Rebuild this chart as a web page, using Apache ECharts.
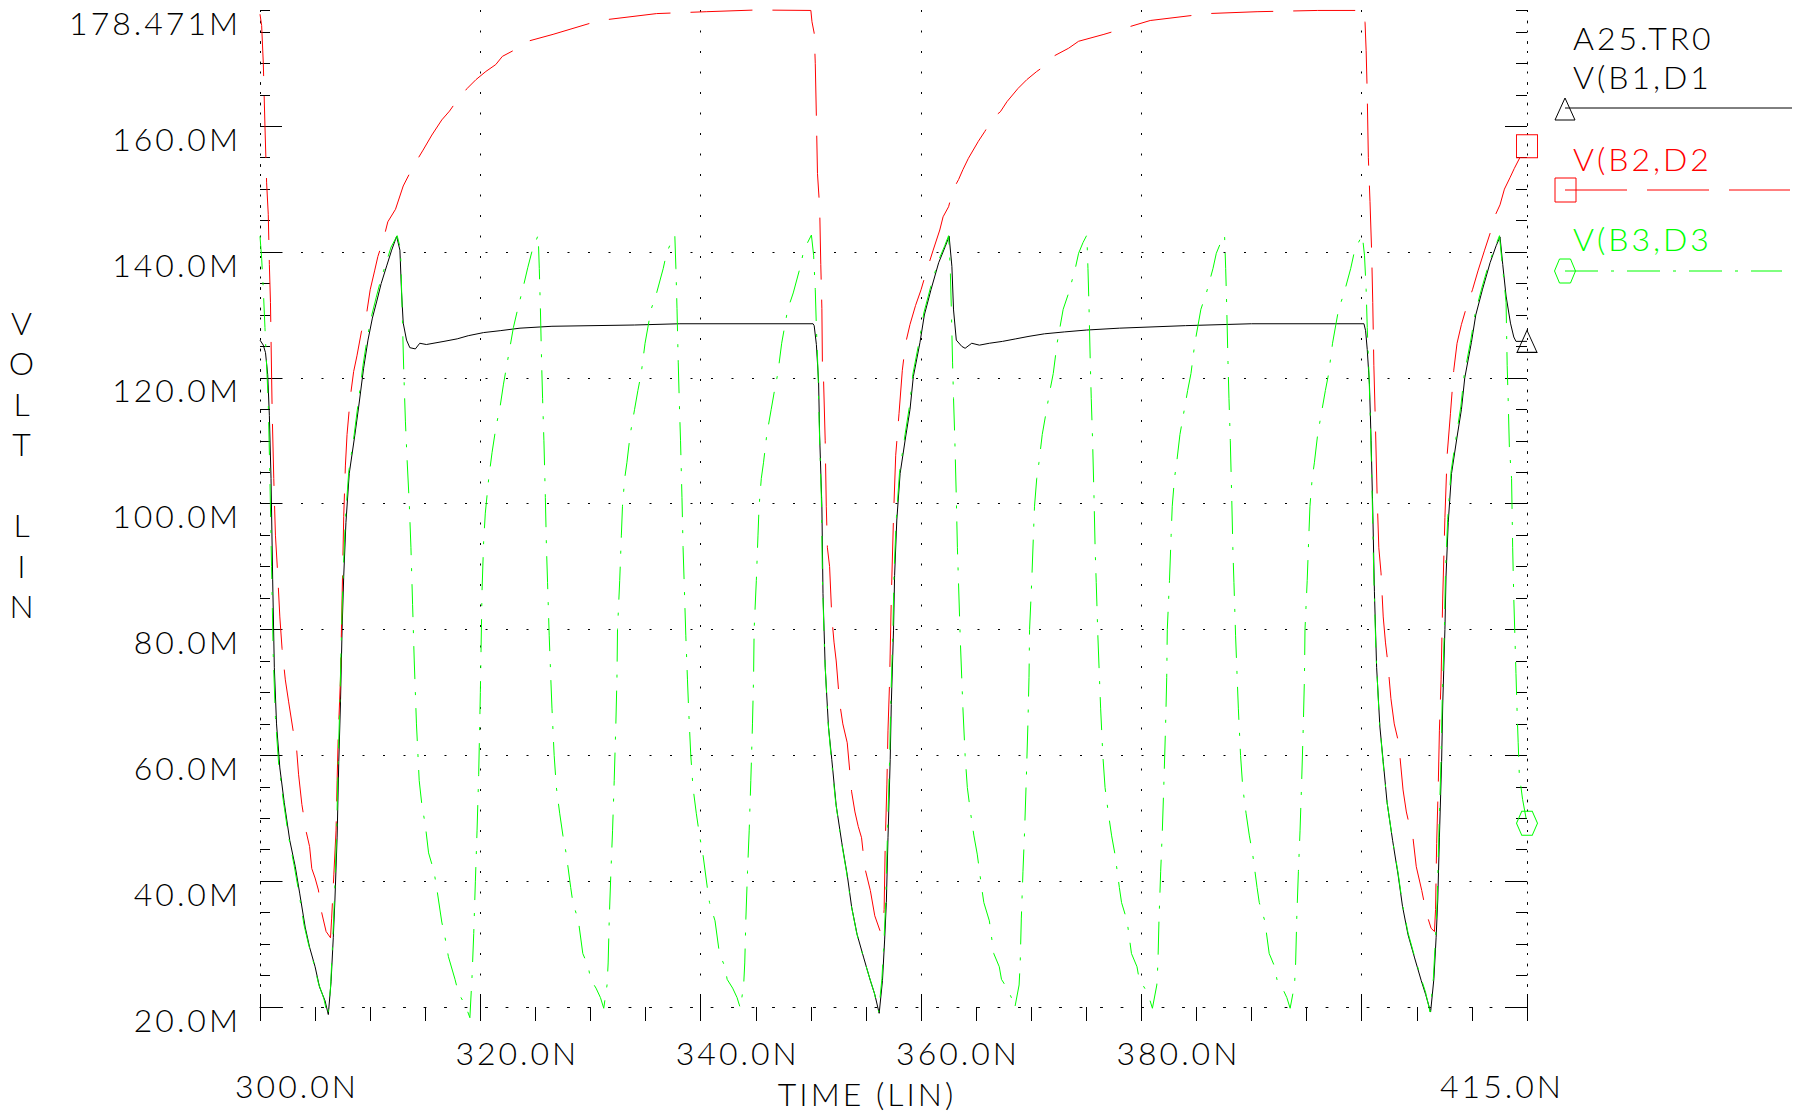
<!DOCTYPE html>
<html>
<head>
<meta charset="utf-8">
<script src="https://cdn.jsdelivr.net/npm/echarts@6/dist/echarts.min.js"></script>
<style>
html, body { margin: 0; padding: 0; background: #ffffff; }
#chart { width: 1803px; height: 1112px; }
#chart svg text { letter-spacing: 3px; }
</style>
</head>
<body>
<div id="chart"></div>
<script>
// ---------- text / tick data ----------
const fileLabel = 'A25.TR0';
const seriesNames = ['V(B1,D1', 'V(B2,D2', 'V(B3,D3'];
const xAxisTitle = 'TIME (LIN)';
const yAxisTitle = 'VOLT LIN';
const xTickValues = [300, 320, 340, 360, 380, 400, 415];
const xTickLabels = ['300.0N', '320.0N', '340.0N', '360.0N', '380.0N', '400.0N', '415.0N'];
const yTickValues = [20, 40, 60, 80, 100, 120, 140, 160, 178.471];
const yTickLabels = ['20.0M', '40.0M', '60.0M', '80.0M', '100.0M', '120.0M', '140.0M', '160.0M', '178.471M'];

// ---------- series values: [time (ns), volt (mV)] ----------
const vb1 = [
  [300.0,126.0],[300.3,125.2],[300.5,124.0],[300.7,120.5],[300.85,114.0],[301.0,104.0],[301.15,88.0],[301.3,74.0],[301.5,65.0],[301.8,58.0],
  [302.2,52.5],[302.7,46.5],[303.2,42.3],[303.6,38.1],[304.1,32.7],[304.5,29.5],[305.0,26.4],[305.4,23.2],[305.9,21.0],[306.2,18.8],
  [306.45,24.0],[306.65,31.0],[306.8,37.0],[307.0,47.0],[307.15,59.0],[307.3,68.0],[307.45,80.0],[307.6,88.5],[307.8,97.0],[308.1,104.8],
  [308.6,110.8],[309.0,116.0],[309.4,121.5],[309.8,126.0],[310.2,129.5],[310.6,132.2],[311.0,135.0],[311.5,137.8],[311.95,140.3],[312.4,142.5],
  [312.7,140.3],[312.85,133.5],[313.0,128.7],[313.3,126.0],[313.6,124.8],[314.1,124.6],[314.5,125.5],[315.1,125.3],[316.7,125.8],[317.9,126.2],
  [318.9,126.7],[320.3,127.2],[321.8,127.5],[323.6,127.9],[326.5,128.2],[334.0,128.4],[338.1,128.6],[350.2,128.6],
  [350.3,128.3],[350.5,125.3],[350.7,119.4],[350.8,110.6],[351.0,99.6],[351.1,85.7],[351.3,74.0],[351.6,64.5],[351.9,59.3],[352.3,52.0],
  [352.8,46.2],[353.3,41.0],[353.7,35.9],[354.2,31.5],[354.8,27.8],[355.4,24.2],[355.8,22.0],[356.2,19.0],[356.5,24.2],[356.7,30.8],
  [356.85,36.6],[357.0,46.9],[357.2,59.3],[357.3,68.1],[357.5,79.9],[357.6,88.6],[357.8,97.4],[358.1,104.8],[358.6,110.6],[359.0,115.0],
  [359.3,120.2],[359.9,125.6],[360.3,130.0],[360.9,134.0],[361.6,138.3],[362.2,140.9],[362.55,142.5],[362.8,137.7],[362.95,130.8],[363.2,126.0],
  [363.7,125.0],[364.0,124.7],[364.6,125.5],[365.3,125.2],[366.2,125.5],[367.4,125.8],[368.6,126.2],[369.8,126.6],[371.2,127.0],[373.0,127.3],
  [375.0,127.6],[378.0,127.9],[384.0,128.3],[390.0,128.6],[400.2,128.6],
  [400.35,127.5],[400.5,124.5],[400.7,119.0],[400.85,110.0],[401.0,99.0],[401.15,86.0],[401.35,74.0],[401.65,64.5],[401.95,59.0],[402.3,52.5],
  [402.8,46.5],[403.3,41.0],[403.7,36.0],[404.2,31.5],[404.8,27.8],[405.4,24.2],[405.8,22.0],[406.25,19.2],[406.55,24.5],[406.75,31.0],
  [406.9,37.0],[407.05,47.0],[407.25,59.0],[407.35,68.0],[407.55,80.0],[407.65,88.5],[407.85,97.0],[408.15,104.8],[408.65,110.6],[409.05,115.0],
  [409.35,120.0],[409.95,125.6],[410.35,130.0],[410.95,134.0],[411.65,138.3],[412.2,141.0],[412.55,142.4],[412.8,138.0],[413.1,133.0],[413.5,128.7],
  [413.8,126.5],[414.0,125.8],[415.0,125.8]
];

const vb2 = [
  [300.0,177.8],[300.15,176.0],[300.3,170.0],[300.45,160.0],[300.6,151.0],[300.75,146.0],[300.85,138.0],[300.95,132.0],[301.1,115.0],[301.25,104.0],
  [301.4,95.0],[301.6,89.0],[301.8,82.0],[302.0,77.0],[302.3,72.0],[302.6,68.5],[303.0,64.0],[303.3,61.5],[303.5,57.0],[303.8,52.2],
  [304.2,47.8],[304.5,45.5],[304.7,42.0],[305.0,40.5],[305.3,38.6],[305.6,35.0],[306.0,32.0],[306.4,31.0],[306.5,34.0],[306.7,41.0],
  [306.9,48.0],[307.0,56.0],[307.1,63.0],[307.3,72.0],[307.45,85.0],[307.6,98.0],[307.75,106.0],[307.9,111.0],[308.2,117.0],[308.5,121.0],
  [308.8,123.5],[309.2,127.3],[309.7,130.5],[310.0,134.0],[310.4,137.0],[310.7,139.3],[311.2,142.0],[311.6,144.8],[312.3,146.8],[313.0,150.5],
  [313.9,153.6],[314.8,156.2],[315.6,158.6],[316.5,161.0],[317.2,162.4],[317.8,163.9],[318.8,166.0],[319.6,167.4],[320.5,168.7],[321.4,169.8],
  [322.0,171.1],[323.4,172.4],[324.3,173.5],[326.6,174.6],[330.8,176.8],[336.0,177.9],[340.5,178.2],[345.0,178.471],[350.0,178.4],
  [350.1,176.6],[350.3,174.8],[350.4,170.0],[350.5,161.5],[350.6,152.5],[350.8,147.0],[350.9,138.0],[351.0,131.0],[351.05,121.6],[351.15,119.8],
  [351.3,110.0],[351.4,99.6],[351.5,93.0],[351.7,90.0],[351.9,82.0],[352.1,78.0],[352.3,75.0],[352.6,68.5],[352.9,65.0],[353.3,62.0],
  [353.7,54.2],[354.0,51.0],[354.3,48.7],[354.6,46.9],[354.9,42.1],[355.4,38.5],[355.8,34.5],[356.3,32.0],[356.55,33.0],[356.65,35.5],
  [356.75,46.0],[356.9,55.3],[357.0,64.0],[357.15,72.0],[357.3,85.0],[357.5,97.8],[357.7,107.7],[358.0,114.3],[358.3,121.2],[358.6,125.5],
  [359.0,128.5],[359.5,131.5],[360.0,134.0],[360.5,137.0],[361.1,140.3],[361.7,143.5],[362.0,145.6],[362.5,147.2],[362.9,149.9],[363.4,151.5],
  [363.8,153.1],[364.3,154.9],[365.2,157.6],[365.8,159.2],[366.5,161.3],[367.2,162.3],[367.8,163.9],[368.8,166.0],[369.6,167.4],[370.5,168.7],
  [371.4,169.8],[372.0,171.1],[373.4,172.4],[374.3,173.5],[376.6,174.6],[380.8,176.8],[386.0,177.9],[390.5,178.2],[396.0,178.4],[400.2,178.4],
  [400.3,176.5],[400.4,172.0],[400.5,165.0],[400.6,155.0],[400.75,148.0],[400.9,140.0],[401.0,132.0],[401.1,122.0],[401.25,112.0],[401.4,101.0],
  [401.55,93.0],[401.75,89.0],[401.95,82.0],[402.15,78.0],[402.35,75.0],[402.65,69.0],[402.95,65.0],[403.35,62.0],[403.75,54.5],[404.05,51.0],
  [404.35,48.7],[404.65,46.9],[404.95,42.3],[405.45,38.5],[405.85,35.0],[406.3,32.5],[406.6,32.0],[406.7,35.5],[406.8,46.0],[406.95,55.5],
  [407.05,64.0],[407.2,72.0],[407.35,85.0],[407.55,97.8],[407.75,107.7],[408.05,114.3],[408.35,121.2],[408.65,125.5],[409.05,128.5],[409.55,131.5],
  [410.05,134.0],[410.55,137.0],[411.15,140.3],[411.75,143.5],[412.05,145.6],[412.55,147.5],[412.95,150.0],[413.45,151.8],[413.85,153.3],[414.35,155.0],
  [415.0,156.8]
];

const vb3 = [
  [300.0,142.5],[300.15,139.0],[300.3,134.0],[300.45,128.0],[300.6,122.0],[300.75,116.0],[300.9,104.0],[301.05,90.0],[301.2,76.0],[301.4,66.0],
  [301.7,58.5],[302.1,53.0],[302.6,47.0],[303.1,42.5],[303.5,38.5],[304.0,33.0],[304.4,30.0],[304.9,26.8],[305.3,23.8],[305.8,21.3],[306.15,18.5],
  [306.4,23.0],[306.6,30.5],[306.75,37.0],[306.95,47.5],[307.1,59.5],[307.25,68.5],[307.4,80.0],[307.55,89.0],[307.75,97.5],[308.05,105.0],
  [308.55,111.0],[308.95,116.5],[309.35,122.0],[309.75,126.5],[310.15,130.0],[310.55,132.8],[310.95,135.5],[311.45,138.3],[311.9,140.8],[312.45,142.6],
  [312.75,140.5],[312.9,131.0],[313.05,121.0],[313.2,113.0],[313.35,107.0],[313.55,100.0],[313.7,93.0],[313.85,84.0],[314.0,75.0],[314.2,65.0],
  [314.45,56.0],[314.7,52.0],[315.0,49.0],[315.3,44.5],[315.8,41.5],[316.1,38.2],[316.5,33.5],[316.8,31.0],[317.1,28.0],[317.7,24.4],
  [318.0,22.3],[318.4,21.0],[318.8,19.5],[319.05,18.3],
  [319.25,25.0],[319.4,31.7],[319.55,40.0],[319.7,48.0],[319.85,57.0],[320.0,70.0],[320.15,86.0],[320.3,94.0],[320.45,98.5],[320.76,104.0],
  [321.06,108.1],[321.4,112.0],[321.8,115.5],[322.1,119.0],[322.6,124.0],[323.0,128.0],[323.4,131.0],[323.9,134.5],[324.3,137.5],[324.7,140.2],[325.25,142.7],
  [325.35,137.4],[325.45,131.0],[325.56,122.5],[325.65,116.7],[325.77,110.0],[325.9,101.0],[326.0,93.0],[326.1,87.5],[326.25,79.0],[326.4,72.0],
  [326.5,67.5],[326.7,60.0],[326.9,54.9],[327.2,50.8],[327.5,47.2],[327.8,44.3],[328.2,39.0],[328.4,36.6],[328.9,33.7],[329.3,28.5],
  [329.8,26.4],[330.0,24.4],[330.5,23.0],[330.9,21.5],[331.2,19.8],
  [331.5,23.5],[331.6,27.0],[331.7,34.0],[331.85,41.5],[332.0,48.0],[332.15,56.0],[332.3,65.0],[332.4,72.4],[332.45,80.0],[332.65,87.8],
  [332.8,95.0],[332.9,99.6],[333.1,104.0],[333.3,106.5],[333.6,111.0],[334.0,115.0],[334.3,118.0],[334.6,120.7],[334.95,125.5],[335.5,130.9],
  [336.0,133.5],[336.6,137.4],[336.9,139.8],[337.3,141.5],[337.65,142.7],
  [337.75,137.4],[337.85,131.0],[337.96,122.5],[338.05,116.7],[338.17,110.0],[338.3,101.0],[338.4,93.0],[338.5,87.5],[338.65,79.0],[338.8,72.0],
  [338.9,67.5],[339.1,60.0],[339.3,54.9],[339.6,50.8],[339.9,47.2],[340.2,44.3],[340.6,39.0],[340.8,36.6],[341.3,33.7],[341.7,28.5],
  [342.2,26.4],[342.4,24.4],[342.9,23.0],[343.3,21.5],[343.6,19.8],
  [343.9,23.5],[344.0,27.0],[344.1,34.0],[344.25,41.5],[344.4,48.0],[344.55,56.0],[344.7,65.0],[344.8,72.4],[344.85,80.0],[345.05,87.8],
  [345.2,95.0],[345.3,99.6],[345.5,104.0],[345.7,106.5],[346.0,111.0],[346.4,115.0],[346.7,118.0],[347.0,120.7],[347.35,125.5],[347.9,130.9],
  [348.4,133.5],[349.0,137.4],[349.3,139.8],[349.7,141.5],[350.05,142.7],
  [350.25,139.5],[350.4,134.0],[350.5,128.0],[350.65,121.0],[350.75,113.0],[350.95,101.0],[351.05,88.0],[351.25,76.0],[351.55,65.5],[351.85,59.5],
  [352.25,52.5],[352.75,46.5],[353.25,41.3],[353.65,36.3],[354.15,31.8],[354.75,28.0],[355.35,24.5],[355.75,22.3],[356.15,19.2],
  [356.45,24.5],[356.65,31.0],[356.8,37.0],[356.95,47.5],[357.15,59.5],[357.25,68.5],[357.45,80.0],[357.55,89.0],[357.75,97.5],[358.05,105.0],
  [358.55,111.0],[358.95,115.5],[359.25,120.5],[359.85,126.0],[360.25,130.3],[360.85,134.3],[361.55,138.5],[362.15,141.0],[362.5,142.6],
  [362.65,137.4],[362.75,131.0],[362.86,122.5],[362.95,116.7],[363.07,110.0],[363.2,101.0],[363.3,93.0],[363.4,87.5],[363.55,79.0],[363.7,72.0],
  [363.8,67.5],[364.0,60.0],[364.2,54.9],[364.5,50.8],[364.8,47.2],[365.1,44.3],[365.5,39.0],[365.7,36.6],[366.2,33.7],[366.6,28.5],
  [367.1,26.4],[367.3,24.4],[367.8,23.0],[368.2,21.5],[368.5,19.8],
  [368.9,23.5],[369.0,27.0],[369.1,34.0],[369.25,41.5],[369.4,48.0],[369.55,56.0],[369.7,65.0],[369.8,72.4],[369.85,80.0],[370.05,87.8],
  [370.2,95.0],[370.3,99.6],[370.5,104.0],[370.7,106.5],[371.0,111.0],[371.4,115.0],[371.7,118.0],[372.0,120.7],[372.35,125.5],[372.9,130.9],
  [373.4,133.5],[374.0,137.4],[374.3,139.8],[374.7,141.5],[375.05,142.7],
  [375.15,137.4],[375.25,131.0],[375.36,122.5],[375.45,116.7],[375.57,110.0],[375.7,101.0],[375.8,93.0],[375.9,87.5],[376.05,79.0],[376.2,72.0],
  [376.3,67.5],[376.5,60.0],[376.7,54.9],[377.0,50.8],[377.3,47.2],[377.6,44.3],[378.0,39.0],[378.2,36.6],[378.7,33.7],[379.1,28.5],
  [379.6,26.4],[379.8,24.4],[380.3,23.0],[380.7,21.5],[381.0,19.8],
  [381.4,23.5],[381.5,27.0],[381.6,34.0],[381.75,41.5],[381.9,48.0],[382.05,56.0],[382.2,65.0],[382.3,72.4],[382.35,80.0],[382.55,87.8],
  [382.7,95.0],[382.8,99.6],[383.0,104.0],[383.2,106.5],[383.5,111.0],[383.9,115.0],[384.2,118.0],[384.5,120.7],[384.85,125.5],[385.4,130.9],
  [385.9,133.5],[386.5,137.4],[386.8,139.8],[387.2,141.5],[387.55,142.7],
  [387.65,137.4],[387.75,131.0],[387.86,122.5],[387.95,116.7],[388.07,110.0],[388.2,101.0],[388.3,93.0],[388.4,87.5],[388.55,79.0],[388.7,72.0],
  [388.8,67.5],[389.0,60.0],[389.2,54.9],[389.5,50.8],[389.8,47.2],[390.1,44.3],[390.5,39.0],[390.7,36.6],[391.2,33.7],[391.6,28.5],
  [392.1,26.4],[392.3,24.4],[392.8,23.0],[393.2,21.5],[393.5,19.8],
  [393.9,23.5],[394.0,27.0],[394.1,34.0],[394.25,41.5],[394.4,48.0],[394.55,56.0],[394.7,65.0],[394.8,72.4],[394.85,80.0],[395.05,87.8],
  [395.2,95.0],[395.3,99.6],[395.5,104.0],[395.7,106.5],[396.0,111.0],[396.4,115.0],[396.7,118.0],[397.0,120.7],[397.35,125.5],[397.9,130.9],
  [398.4,133.5],[399.0,137.4],[399.3,139.8],[399.7,141.5],[400.05,142.7],
  [400.25,139.5],[400.4,134.0],[400.5,128.0],[400.65,121.0],[400.8,112.0],[400.95,101.0],[401.1,88.0],[401.3,76.0],[401.6,65.5],[401.9,59.5],
  [402.3,52.5],[402.8,46.5],[403.3,41.3],[403.7,36.3],[404.2,31.8],[404.8,28.0],[405.4,24.5],[405.8,22.3],[406.2,19.2],
  [406.5,24.5],[406.7,31.0],[406.85,37.0],[407.0,47.5],[407.2,59.5],[407.3,68.5],[407.5,80.0],[407.6,89.0],[407.8,97.5],[408.1,105.0],
  [408.6,111.0],[409.0,115.5],[409.3,120.5],[409.9,126.0],[410.3,130.3],[410.9,134.3],[411.6,138.5],[412.15,141.0],[412.5,142.6],
  [412.7,139.0],[413.1,132.0],[413.2,122.0],[413.3,116.0],[413.4,109.0],[413.6,104.0],[413.7,93.0],[413.8,85.0],[414.0,73.0],[414.1,67.0],
  [414.2,62.0],[414.3,57.0],[414.6,53.0],[415.0,49.2]
];

// ---------- styling ----------
const FONT = 'Lato';
const FW = 300;
const FS = 32;
const INK = '#000000';
const RED = '#ff0000';
const GREEN = '#00ff00';
const DOT = [2, 18.5];
const RED_DASH = [62, 20];
const GREEN_DASH = [33, 13, 3, 13];
const HEX = 'path://M0,6 L3,0 L9,0 L12,6 L9,12 L3,12 Z';

const xMin = xTickValues[0], xMax = xTickValues[xTickValues.length - 1];
const yMin = yTickValues[0], yMax = yTickValues[yTickValues.length - 1];

function endMarker(arr, symbol, size, color) {
  return arr.map((p, i) => i === arr.length - 1
    ? { value: p, symbol: symbol, symbolSize: size,
        itemStyle: { color: 'rgba(0,0,0,0)', borderColor: color, borderWidth: 1 } }
    : p);
}

const labelBase = { fontFamily: FONT, fontWeight: FW, fontSize: FS, color: INK };
const gfont = FW + ' ' + FS + 'px ' + FONT;

const chart = echarts.init(document.getElementById('chart'), null, { renderer: 'svg', width: 1803, height: 1112 });

chart.setOption({
  animation: false,
  backgroundColor: '#ffffff',
  textStyle: { fontFamily: FONT, fontWeight: FW, color: INK },
  grid: { left: 260, right: 276, top: 10, bottom: 105, containLabel: false, outerBoundsMode: 'none' },
  xAxis: [
    {
      type: 'value', min: xMin, max: xMax, interval: 20, position: 'bottom',
      axisLine: { show: true, onZero: false, lineStyle: { color: INK, width: 1, type: DOT } },
      axisTick: { show: true, inside: false, length: 14, lineStyle: { color: INK, width: 1 } },
      splitLine: { show: true, lineStyle: { color: INK, width: 1, type: DOT } },
      axisLabel: {
        show: true, margin: 33, showMinLabel: true, showMaxLabel: true, hideOverlap: false,
        formatter: function (v) {
          const i = xTickValues.indexOf(v);
          if (i < 0) return '';
          const s = xTickLabels[i];
          if (v === xMin) return '{b|' + s + '}';
          if (v === xMax) return '{c|' + s + '}';
          return '{a|' + s + '}';
        },
        rich: {
          a: Object.assign({}, labelBase, { lineHeight: 24, align: 'center', padding: [0, 0, 0, 74] }),
          b: Object.assign({}, labelBase, { lineHeight: 24, align: 'center', padding: [66, 0, 0, 74] }),
          c: Object.assign({}, labelBase, { lineHeight: 24, align: 'center', padding: [66, 50, 0, 0] })
        }
      },
      name: xAxisTitle, nameLocation: 'middle', nameGap: 70, nameMoveOverlap: false,
      nameTextStyle: Object.assign({}, labelBase, { align: 'center', verticalAlign: 'top', padding: [0, 53, 0, 0] })
    },
    {
      type: 'value', min: xMin, max: xMax, interval: 20, position: 'bottom',
      axisLine: { show: false }, axisLabel: { show: false }, splitLine: { show: false },
      axisTick: { show: true, inside: true, length: 11, lineStyle: { color: INK, width: 1 } }
    },
    {
      type: 'value', min: xMin, max: xMax, interval: 5, position: 'bottom',
      axisLine: { show: false }, axisLabel: { show: false }, splitLine: { show: false },
      axisTick: { show: true, inside: false, length: 14, lineStyle: { color: INK, width: 1 } }
    }
  ],
  yAxis: [
    {
      type: 'value', min: yMin, max: yMax, interval: 20, position: 'left',
      axisLine: { show: true, onZero: false, lineStyle: { color: INK, width: 1, type: DOT } },
      axisTick: { show: true, inside: true, length: 22, customValues: yTickValues.slice(0, -1), lineStyle: { color: INK, width: 1 } },
      splitLine: { show: true, showMaxLine: false, lineStyle: { color: INK, width: 1, type: DOT } },
      axisLabel: Object.assign({}, labelBase, {
        show: true, margin: 19, align: 'right', verticalAlign: 'top', lineHeight: 24,
        showMinLabel: true, showMaxLabel: true, hideOverlap: false,
        formatter: function (v) {
          const i = yTickValues.indexOf(v);
          return i < 0 ? '' : yTickLabels[i];
        }
      })
    },
    {
      type: 'value', min: yMin, max: yMax, interval: 5, position: 'left',
      axisLine: { show: false }, axisLabel: { show: false }, splitLine: { show: false },
      axisTick: { show: true, inside: true, length: 10, lineStyle: { color: INK, width: 1 } }
    },
    {
      type: 'value', min: yMin, max: yMax, interval: 20, position: 'right',
      axisLine: { show: true, onZero: false, lineStyle: { color: INK, width: 1, type: DOT } },
      axisLabel: { show: false }, splitLine: { show: false },
      axisTick: { show: true, inside: true, length: 22, customValues: yTickValues.slice(0, -1), lineStyle: { color: INK, width: 1 } }
    },
    {
      type: 'value', min: yMin, max: yMax, interval: 5, position: 'right',
      axisLine: { show: false }, axisLabel: { show: false }, splitLine: { show: false },
      axisTick: { show: true, inside: true, length: 11, lineStyle: { color: INK, width: 1 } }
    }
  ],
  series: [
    {
      name: seriesNames[0], type: 'line', xAxisIndex: 0, yAxisIndex: 0, silent: true, clip: false,
      symbol: 'none', showSymbol: true, smooth: false,
      lineStyle: { color: INK, width: 1, type: 'solid' }, itemStyle: { color: INK },
      data: endMarker(vb1, 'triangle', [20, 22], INK)
    },
    {
      name: seriesNames[1], type: 'line', xAxisIndex: 0, yAxisIndex: 0, silent: true, clip: false,
      symbol: 'none', showSymbol: true, smooth: false,
      lineStyle: { color: RED, width: 1, type: RED_DASH }, itemStyle: { color: RED },
      data: endMarker(vb2, 'rect', [21, 23], RED)
    },
    {
      name: seriesNames[2], type: 'line', xAxisIndex: 0, yAxisIndex: 0, silent: true, clip: false,
      symbol: 'none', showSymbol: true, smooth: false,
      lineStyle: { color: GREEN, width: 1, type: GREEN_DASH }, itemStyle: { color: GREEN },
      data: endMarker(vb3, HEX, [21, 24], GREEN)
    }
  ],
  graphic: [
    { type: 'text', x: 23, y: 302, style: { text: yAxisTitle.split('').join('\n'), font: gfont, fill: INK, align: 'center', verticalAlign: 'top', lineHeight: 40.5 } },
    { type: 'text', x: 1573, y: 37, style: { text: fileLabel, font: gfont, fill: INK, align: 'left', verticalAlign: 'middle' } },
    { type: 'text', x: 1573, y: 76, style: { text: seriesNames[0], font: gfont, fill: INK, align: 'left', verticalAlign: 'middle' } },
    { type: 'line', shape: { x1: 1565, y1: 108, x2: 1792, y2: 108 }, style: { stroke: INK, lineWidth: 1 } },
    { type: 'polygon', shape: { points: [[1565, 98], [1575, 120], [1555, 120]] }, style: { fill: 'none', stroke: INK, lineWidth: 1 } },
    { type: 'text', x: 1573, y: 158, style: { text: seriesNames[1], font: gfont, fill: RED, align: 'left', verticalAlign: 'middle' } },
    { type: 'line', shape: { x1: 1565, y1: 190, x2: 1790, y2: 190 }, style: { stroke: RED, lineWidth: 1, lineDash: RED_DASH } },
    { type: 'rect', shape: { x: 1555, y: 178, width: 21, height: 24 }, style: { fill: 'none', stroke: RED, lineWidth: 1 } },
    { type: 'text', x: 1573, y: 238, style: { text: seriesNames[2], font: gfont, fill: GREEN, align: 'left', verticalAlign: 'middle' } },
    { type: 'line', shape: { x1: 1565, y1: 271, x2: 1782, y2: 271 }, style: { stroke: GREEN, lineWidth: 1, lineDash: GREEN_DASH } },
    { type: 'polygon', shape: { points: [[1554.5, 271], [1559.5, 259], [1570.5, 259], [1575.5, 271], [1570.5, 283], [1559.5, 283]] }, style: { fill: 'none', stroke: GREEN, lineWidth: 1 } }
  ]
});
</script>
</body>
</html>
